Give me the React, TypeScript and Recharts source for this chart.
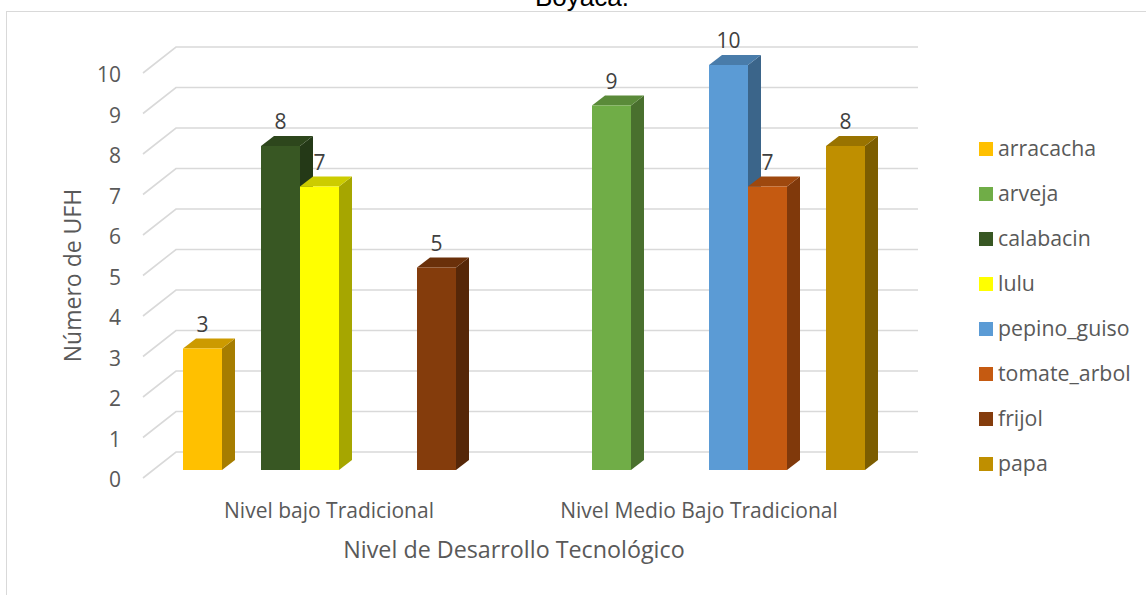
import React from "react";
import { BarChart, Bar, XAxis, YAxis, CartesianGrid, LabelList } from "recharts";

const FONT = '"Open Sans", sans-serif';
const TEXT = "#595959";

const levels = ["Nivel bajo Tradicional", "Nivel Medio Bajo Tradicional"];
const arracacha = [3, null];
const arveja = [null, 9];
const calabacin = [8, null];
const lulu = [7, null];
const pepinoGuiso = [null, 10];
const tomateArbol = [null, 7];
const frijol = [5, null];
const papa = [null, 8];
const valueTicks = [0, 1, 2, 3, 4, 5, 6, 7, 8, 9, 10];

const series = [
  { name: "arracacha", values: arracacha, fill: "#FFC000", top: "#CC9A00", side: "#A67D00" },
  { name: "arveja", values: arveja, fill: "#70AD47", top: "#5A8A39", side: "#49702E" },
  { name: "calabacin", values: calabacin, fill: "#385723", top: "#2D461C", side: "#243917" },
  { name: "lulu", values: lulu, fill: "#FFFF00", top: "#CCCC00", side: "#A6A600" },
  { name: "pepino_guiso", values: pepinoGuiso, fill: "#5B9BD5", top: "#497CAA", side: "#3B658A" },
  { name: "tomate_arbol", values: tomateArbol, fill: "#C55A11", top: "#9E480E", side: "#80390B" },
  { name: "frijol", values: frijol, fill: "#843C0C", top: "#6A300A", side: "#562708" },
  { name: "papa", values: papa, fill: "#BF8F00", top: "#997300", side: "#7C5D00" },
];

const rows = levels.map((level, i) => {
  const row: Record<string, string | number | null> = { level };
  series.forEach((s) => {
    row[s.name] = s.values[i];
  });
  return row;
});

const DEPTH_X = 13;
const DEPTH_Y = 10;

// Column with a shaded roof and right flank to give the extruded look.
function Column3D(props: any) {
  const { x, y, width, height, fill, top, side } = props;
  if (!height) return null;
  const r = x + width;
  const b = y + height;
  return (
    <g>
      <polygon
        points={`${r},${y} ${r + DEPTH_X},${y - DEPTH_Y} ${r + DEPTH_X},${b - DEPTH_Y} ${r},${b}`}
        fill={side}
      />
      <polygon
        points={`${x},${y} ${x + DEPTH_X},${y - DEPTH_Y} ${r + DEPTH_X},${y - DEPTH_Y} ${r},${y}`}
        fill={top}
      />
      <rect x={x} y={y} width={width} height={height} fill={fill} />
    </g>
  );
}

// Back-wall gridline with its diagonal run along the side wall.
function WallLine(props: any) {
  const { x1, x2, y1, index } = props;
  const frontX = x1 - 11;
  const backX = x1 + 22;
  const endX = x2 + 24;
  return (
    <polyline
      key={index}
      points={`${frontX},${y1 + 8} ${backX},${y1 - 18} ${endX},${y1 - 18}`}
      fill="none"
      stroke="#d9d9d9"
      strokeWidth={1.6}
    />
  );
}

function ValueTick(props: any) {
  const { x, y, payload } = props;
  return (
    <text x={x - 25} y={y + 17} textAnchor="end" fontFamily={FONT} fontSize={21} fill={TEXT}>
      {payload.value}
    </text>
  );
}

function LevelTick(props: any) {
  const { x, y, payload } = props;
  return (
    <text x={x - 10} y={y + 40} textAnchor="middle" fontFamily={FONT} fontSize={21} fill={TEXT}>
      {payload.value}
    </text>
  );
}

function ValueLabel(props: any) {
  const { x, y, width, value } = props;
  if (value == null) return null;
  return (
    <text x={x + width / 2} y={y - 17} textAnchor="middle" fontFamily={FONT} fontSize={21} fill="#404040">
      {value}
    </text>
  );
}

function SeriesKey() {
  return (
    <div style={{ position: "absolute", left: 979, top: 126, width: 167, fontFamily: FONT, fontSize: 21.3, color: TEXT }}>
      {series.map((s) => (
        <div key={s.name} style={{ height: 45, display: "flex", alignItems: "center" }}>
          <span style={{ width: 14, height: 14, background: s.fill, marginRight: 5 }} />
          <span style={{ position: "relative", top: -1 }}>{s.name}</span>
        </div>
      ))}
    </div>
  );
}

export default function App() {
  return (
    <div style={{ position: "absolute", left: 0, top: 0, width: 1146, height: 595, overflow: "hidden", background: "#fff" }}>
      <div
        style={{
          position: "absolute",
          left: 6,
          top: 11,
          right: -4,
          bottom: -4,
          borderTop: "1.5px solid #d9d9d9",
          borderLeft: "1.5px solid #d9d9d9",
        }}
      />
      <div
        style={{
          position: "absolute",
          left: 582 - 100,
          width: 200,
          top: -18,
          textAlign: "center",
          fontFamily: '"Liberation Sans", sans-serif',
          fontSize: 26,
          lineHeight: "30px",
          color: "#000",
        }}
      >
        Boyacá.
      </div>
      <div style={{ position: "absolute", left: 0, top: 0 }}>
        <BarChart
          width={1146}
          height={595}
          data={rows}
          margin={{ top: 65, right: 252, bottom: 45, left: 114 }}
          barGap={0}
          barCategoryGap={29}
        >
          <CartesianGrid vertical={false} horizontal={WallLine as any} />
          <XAxis
            dataKey="level"
            axisLine={false}
            tickLine={false}
            tick={LevelTick as any}
            interval={0}
            height={80}
            label={{
              value: "Nivel de Desarrollo Tecnológico",
              position: "insideBottom",
              offset: -8,
              dx: -10,
              style: { fontFamily: FONT, fontSize: 23.3, fill: TEXT },
            }}
          />
          <YAxis
            domain={[0, 10]}
            ticks={valueTicks}
            interval={0}
            width={40}
            axisLine={false}
            tickLine={false}
            tick={ValueTick as any}
            label={{
              value: "Número de UFH",
              angle: -90,
              position: "insideLeft",
              dx: -46,
              dy: 8,
              style: { fontFamily: FONT, fontSize: 23, fill: TEXT, textAnchor: "middle" },
            }}
          />
          {series.map((s) => (
            <Bar
              key={s.name}
              dataKey={s.name}
              fill={s.fill}
              isAnimationActive={false}
              shape={(p: any) => <Column3D {...p} top={s.top} side={s.side} />}
            >
              <LabelList dataKey={s.name} content={ValueLabel as any} />
            </Bar>
          ))}
        </BarChart>
      </div>
      <SeriesKey />
    </div>
  );
}
